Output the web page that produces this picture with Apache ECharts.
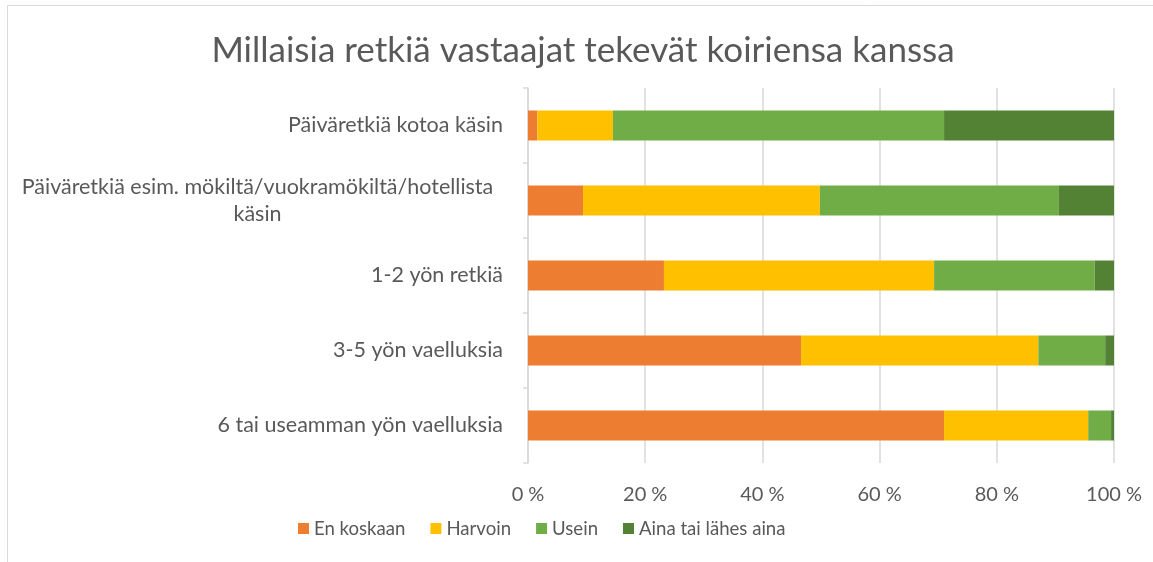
<!DOCTYPE html>
<html>
<head>
<meta charset="utf-8">
<script src="https://cdn.jsdelivr.net/npm/echarts@6/dist/echarts.min.js"></script>
<style>
  html, body { margin: 0; padding: 0; background: #fff; }
  #chart { width: 1153px; height: 562px; }
</style>
</head>
<body>
<div id="chart"></div>
<script>
// categories, top to bottom
const categories = [
  'Päiväretkiä kotoa käsin',
  'Päiväretkiä esim. mökiltä/vuokramökiltä/hotellista käsin',
  '1-2 yön retkiä',
  '3-5 yön vaelluksia',
  '6 tai useamman yön vaelluksia'
]
const seriesNames = ['En koskaan', 'Harvoin', 'Usein', 'Aina tai lähes aina']
const enKoskaan = [1.6, 9.4, 23.2, 46.6, 71.0]
const harvoin = [12.9, 40.4, 46.1, 40.5, 24.6]
const usein = [56.5, 40.8, 27.4, 11.4, 3.9]
const ainaTaiLahes = [29.0, 9.4, 3.3, 1.5, 0.5]
const xTicks = [0, 20, 40, 60, 80, 100]

const colors = ['#ED7D31', '#FFC000', '#70AD47', '#548235']
const textColor = '#595959'
const font = 'Lato'

const values = [enKoskaan, harvoin, usein, ainaTaiLahes]

const chart = echarts.init(document.getElementById('chart'))

const option = {
  animation: false,
  textStyle: { fontFamily: font },
  title: {
    text: 'Millaisia retkiä vastaajat tekevät koiriensa kanssa',
    left: 578,
    textAlign: 'center',
    top: 28,
    textStyle: { fontFamily: font, fontSize: 35, fontWeight: 'normal', color: textColor }
  },
  graphic: [{
    type: 'rect',
    shape: { x: 7.5, y: 5.5, width: 1200, height: 600 },
    style: { fill: 'none', stroke: '#d9d9d9', lineWidth: 1 },
    silent: true
  }],
  legend: {
    left: 293,
    top: 514,
    itemWidth: 11,
    itemHeight: 11,
    itemGap: 25,
    icon: 'rect',
    textStyle: { fontFamily: font, fontSize: 18.6, color: textColor },
    data: seriesNames
  },
  grid: { left: 528, right: 39, top: 88, bottom: 99, containLabel: false },
  xAxis: {
    type: 'value',
    min: 0,
    max: 100,
    interval: 20,
    axisLine: { show: false },
    axisTick: { show: false },
    splitLine: { lineStyle: { color: '#d9d9d9', width: 1.5 } },
    axisLabel: {
      margin: 22,
      fontFamily: font,
      fontSize: 20,
      color: textColor,
      formatter: v => xTicks.includes(v) ? v + ' %' : ''
    }
  },
  yAxis: {
    type: 'category',
    inverse: true,
    data: categories,
    axisLine: { show: true, lineStyle: { color: '#d9d9d9', width: 1.5 } },
    axisTick: { show: true, length: 5, lineStyle: { color: '#d9d9d9', width: 1.5 } },
    axisLabel: {
      margin: 25,
      fontFamily: font,
      fontSize: 21.5,
      color: textColor,
      lineHeight: 27,
      formatter: v => {
        if (v.length > 40) {
          const cut = v.lastIndexOf(' ')
          return '{c|' + v.slice(0, cut) + '}\n{c|' + v.slice(cut + 1) + '}'
        }
        return v
      },
      rich: {
        c: { width: 491, align: 'center', fontFamily: font, fontSize: 21.5, color: textColor, lineHeight: 27 }
      }
    }
  },
  series: seriesNames.map((name, i) => ({
    name,
    type: 'bar',
    stack: 'total',
    barWidth: '40%',
    itemStyle: { color: colors[i] },
    data: values[i]
  }))
}

chart.setOption(option)
</script>
</body>
</html>
